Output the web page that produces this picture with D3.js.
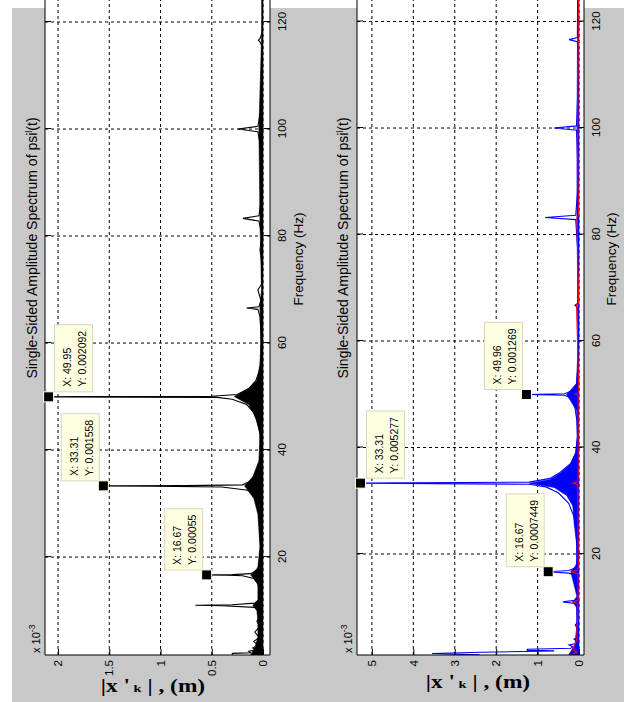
<!DOCTYPE html>
<html>
<head>
<meta charset="utf-8">
<script src="https://cdn.jsdelivr.net/npm/d3@7"></script>
<style>
  html, body { margin: 0; padding: 0; background: #ffffff; }
  svg { display: block; }
  .tick text { font-family: 'Liberation Sans', Arial, sans-serif; font-size: 11.5px; fill: #000; }
  .tick line { stroke: #000; }
  .lbl { font-family: 'Liberation Sans', Arial, sans-serif; fill: #000; }
  .tip text { font-family: 'Liberation Sans', Arial, sans-serif; font-size: 10.5px; fill: #000; }
</style>
</head>
<body>
<div id="chart"></div>
<script>
/* ---- data (amplitudes in units of 1e-3 m, as the axes show) ---- */
const freqTicks = [20, 40, 60, 80, 100, 120];
const ampTicksL = [0, 0.5, 1, 1.5, 2];
const ampTicksR = [0, 1, 2, 3, 4, 5];

// left panel, black spectrum [Hz, x1e-3 m]
const specL = [
  [1.7, 0.30], [2.0, 0.30], [2.1, 0.12], [2.4, 0.14], [2.7, 0.06], [3.0, 0.10], [3.5, 0.05],
  [4.2, 0.09], [5.0, 0.04], [6.0, 0.08], [7.0, 0.03], [8.0, 0.06], [9.0, 0.03], [10.0, 0.05],
  [10.6, 0.08], [10.9, 0.40], [11.0, 0.66], [11.1, 0.30], [11.4, 0.08], [12.0, 0.04], [13.0, 0.03],
  [14.0, 0.04], [15.0, 0.05], [16.0, 0.09], [16.5, 0.20], [16.62, 0.35], [16.67, 0.55], [16.72, 0.30],
  [16.9, 0.12], [17.5, 0.06], [18.5, 0.04], [20.0, 0.03], [22.0, 0.025], [25.0, 0.03], [28.0, 0.04],
  [30.0, 0.06], [31.5, 0.09], [32.5, 0.15], [33.1, 0.40], [33.25, 1.10], [33.31, 1.558], [33.36, 0.75],
  [33.5, 0.20], [34.2, 0.12], [35.5, 0.06], [37.0, 0.03], [40.0, 0.02], [43.0, 0.03], [45.0, 0.05],
  [47.0, 0.09], [48.5, 0.16], [49.5, 0.30], [49.85, 0.45], [49.9, 1.27], [49.95, 2.092], [50.0, 1.80],
  [50.05, 0.50], [50.4, 0.25], [51.5, 0.14], [53.0, 0.07], [55.0, 0.03], [58.0, 0.02], [62.0, 0.02],
  [65.0, 0.03], [66.3, 0.05], [66.55, 0.16], [66.8, 0.04], [68.0, 0.02], [69.9, 0.05], [71.0, 0.015],
  [75.0, 0.01], [77.4, 0.03], [80.0, 0.01], [82.8, 0.04], [83.3, 0.195], [83.8, 0.04], [88.0, 0.01],
  [95.0, 0.01], [99.5, 0.05], [100.0, 0.245], [100.5, 0.05], [105.0, 0.01], [115.5, 0.01],
  [116.3, 0.03], [116.6, 0.045], [116.9, 0.03], [118.0, 0.01], [150.0, 0.01]
];
// dense leakage band under the left spectrum
const skirtL = [
  [1.7, 0.12], [3.0, 0.08], [5.0, 0.05], [8.0, 0.05], [10.0, 0.06], [11.0, 0.10], [12.0, 0.05],
  [15.0, 0.05], [16.67, 0.12], [18.0, 0.05], [22.0, 0.03], [28.0, 0.05], [31.0, 0.09], [33.3, 0.18],
  [35.0, 0.10], [38.0, 0.04], [43.0, 0.03], [46.0, 0.07], [48.5, 0.14], [50.0, 0.28], [51.5, 0.14],
  [53.0, 0.06], [56.0, 0.03], [60.0, 0.02], [66.6, 0.03], [70.0, 0.015], [83.3, 0.03], [100.0, 0.04],
  [120.0, 0.01], [150.0, 0.01]
];
const tipsL = [[16.67, 0.00055, "ur"], [33.31, 0.001558, "ur"], [49.95, 0.002092, "lr"]];

// right panel, blue spectrum [Hz, x1e-3 m]
const specBlue = [
  [1.05, 2.40], [1.3, 3.55], [1.55, 2.35], [1.8, 0.60], [1.9, 1.25], [2.1, 1.25], [2.3, 0.20],
  [2.6, 0.15], [2.9, 0.24], [3.2, 0.06], [3.6, 0.05], [4.0, 0.12], [4.3, 0.04], [5.0, 0.03],
  [6.0, 0.05], [6.7, 0.09], [7.2, 0.03], [8.5, 0.04], [10.0, 0.05], [10.7, 0.10], [11.0, 0.39],
  [11.3, 0.10], [12.0, 0.04], [14.0, 0.04], [16.0, 0.10], [16.4, 0.25], [16.67, 0.745], [16.9, 0.25],
  [17.4, 0.08], [19.0, 0.04], [21.0, 0.05], [24.0, 0.07], [27.0, 0.12], [29.5, 0.25], [31.5, 0.50],
  [32.6, 0.80], [33.1, 1.20], [33.31, 5.277], [33.5, 1.20], [34.2, 0.70], [35.2, 0.48], [37.0, 0.20],
  [39.0, 0.08], [42.0, 0.04], [45.0, 0.05], [47.5, 0.10], [49.3, 0.20], [49.8, 0.35], [49.96, 1.269],
  [50.1, 0.35], [50.7, 0.15], [52.0, 0.06], [55.0, 0.03], [60.0, 0.02], [66.3, 0.03], [66.7, 0.10],
  [67.1, 0.03], [75.0, 0.015], [82.8, 0.08], [83.2, 0.82], [83.6, 0.08], [90.0, 0.015], [99.6, 0.06],
  [100.0, 0.60], [100.4, 0.06], [106.6, 0.03], [110.0, 0.01], [116.2, 0.04], [116.6, 0.24],
  [117.0, 0.04], [150.0, 0.01]
];
const skirtBlue = [
  [1.05, 0.25], [3.0, 0.10], [6.0, 0.06], [10.0, 0.06], [11.0, 0.15], [12.0, 0.05], [16.67, 0.20],
  [18.0, 0.06], [22.0, 0.06], [26.0, 0.12], [29.0, 0.15], [31.0, 0.30], [32.5, 0.60], [33.3, 1.20],
  [34.0, 0.70], [35.2, 0.45], [37.0, 0.20], [39.0, 0.08], [42.0, 0.04], [47.0, 0.06], [49.96, 0.30],
  [52.0, 0.06], [60.0, 0.02], [83.3, 0.05], [100.0, 0.05], [150.0, 0.01]
];
// right panel, red spectrum
const specRed = [
  [1.05, 0.20], [1.5, 0.05], [2.0, 0.15], [3.0, 0.10], [4.0, 0.05], [6.0, 0.05], [8.0, 0.03],
  [10.7, 0.03], [11.0, 0.15], [11.3, 0.03], [12.0, 0.02], [16.3, 0.03], [16.67, 0.18], [17.0, 0.03],
  [18.0, 0.02], [33.0, 0.03], [33.3, 0.15], [33.6, 0.03], [35.0, 0.02], [49.7, 0.02], [50.0, 0.10],
  [50.3, 0.02], [52.0, 0.01], [66.7, 0.06], [67.0, 0.01], [83.3, 0.05], [83.6, 0.01], [91.5, 0.03],
  [100.0, 0.03], [116.6, 0.02], [150.0, 0.0]
];
const tipsR = [[16.67, 0.0007449, "ur"], [33.31, 0.005277, "lr"], [49.96, 0.001269, "ur"]];

/* ---- figure ---- */
const W = 624, H = 702;
const svg = d3.select("#chart").append("svg")
  .attr("width", W).attr("height", H);

svg.append("rect")
  .attr("x", 12).attr("y", 8).attr("width", W - 12).attr("height", H - 8)
  .attr("fill", "#c8c8c8");

// each MATLAB axes is drawn normally, then the whole thing is turned 90deg ccw
const panels = [
  {
    id: "L", fDom: [1.7, 150], u: [47, 840.5], aDom: [-0.068, 2.127], v: [270, 45],
    ampTicks: ampTicksL,
    skirts: [{ data: skirtL, color: "#000" }],
    series: [{ data: specL, color: "#000" }],
    tips: tipsL, titleU: 454, titleV: 37, xlabU: 443, xlabV: 303, ylab: [153, 692]
  },
  {
    id: "R", fDom: [1.03, 150], u: [47, 840.2], aDom: [-0.12, 5.36], v: [584, 357],
    ampTicks: ampTicksR,
    skirts: [{ data: skirtBlue, color: "#0000ff" }],
    series: [{ data: specBlue, color: "#0000ff" }, { data: specRed, color: "#ff0000" }],
    tips: tipsR, titleU: 454, titleV: 348, xlabU: 443, xlabV: 616, ylab: [478, 688]
  }
];

const rot = svg.append("g").attr("transform", `translate(0,${H}) rotate(-90)`);

panels.forEach(function (p) {
  const x = d3.scaleLinear().domain(p.fDom).range(p.u);
  const y = d3.scaleLinear().domain(p.aDom).range(p.v);
  const u0 = p.u[0], u1 = p.u[1], vTop = p.v[1], vBot = p.v[0];

  const g = rot.append("g");

  g.append("clipPath").attr("id", "clip" + p.id)
    .append("rect").attr("x", u0).attr("y", vTop).attr("width", u1 - u0).attr("height", vBot - vTop);

  g.append("rect")
    .attr("x", u0).attr("y", vTop).attr("width", u1 - u0).attr("height", vBot - vTop)
    .attr("fill", "#fff");

  // grid
  const grid = g.append("g").attr("stroke", "#000").attr("stroke-width", 1)
    .attr("stroke-dasharray", "3,3").attr("fill", "none");
  freqTicks.forEach(f => grid.append("line")
    .attr("x1", x(f)).attr("x2", x(f)).attr("y1", vTop).attr("y2", vBot));
  p.ampTicks.forEach(a => grid.append("line")
    .attr("x1", u0).attr("x2", u1).attr("y1", y(a)).attr("y2", y(a)));

  const data = g.append("g").attr("clip-path", `url(#clip${p.id})`);

  const area = d3.area().x(d => x(d[0])).y0(y(0)).y1(d => y(d[1]));
  p.skirts.forEach(s => data.append("path").datum(s.data)
    .attr("d", area).attr("fill", s.color).attr("stroke", s.color).attr("stroke-width", 0.6));

  const line = d3.line().x(d => x(d[0])).y(d => y(d[1]));
  p.series.forEach(s => data.append("path").datum(s.data)
    .attr("d", line).attr("fill", "none").attr("stroke", s.color).attr("stroke-width", 1.1));

  // axes, ticks inside as in MATLAB
  const xb = g.append("g").attr("transform", `translate(0,${vBot})`)
    .call(d3.axisBottom(x).tickValues(freqTicks).tickSize(-6).tickSizeOuter(0).tickPadding(8));
  const xt = g.append("g").attr("transform", `translate(0,${vTop})`)
    .call(d3.axisTop(x).tickValues(freqTicks).tickSize(-6).tickSizeOuter(0).tickFormat(""));
  const yl = g.append("g").attr("transform", `translate(${u0},0)`)
    .call(d3.axisLeft(y).tickValues(p.ampTicks).tickSize(-6).tickSizeOuter(0).tickPadding(5)
      .tickFormat(d => String(d)));
  [xb, xt, yl].forEach(a => a.select(".domain").remove());

  // axes box
  const box = g.append("g").attr("stroke", "#000").attr("stroke-width", 1).attr("fill", "none");
  box.append("line").attr("x1", u0).attr("x2", u1).attr("y1", vBot).attr("y2", vBot);
  box.append("line").attr("x1", u0).attr("x2", u1).attr("y1", vTop).attr("y2", vTop);
  box.append("line").attr("x1", u0).attr("x2", u0).attr("y1", vTop).attr("y2", vBot);

  // exponent label
  const sci = g.append("text").attr("class", "lbl").attr("x", u0 + 2).attr("y", vTop - 5)
    .style("font-size", "11px");
  sci.append("tspan").text("x 10");
  sci.append("tspan").attr("dy", -5).style("font-size", "8.5px").text("-3");

  // title and frequency label
  const title = g.append("text").attr("class", "lbl")
    .attr("x", p.titleU).attr("y", p.titleV).attr("text-anchor", "middle")
    .style("font-size", "14px");
  title.append("tspan").text("Single-Sided Amplitude Spectrum of psi");
  title.append("tspan").attr("dy", -5).style("font-size", "9px").text("l");
  title.append("tspan").attr("dy", 5).text("(t)");

  g.append("text").attr("class", "lbl")
    .attr("x", p.xlabU).attr("y", p.xlabV).attr("text-anchor", "middle")
    .style("font-size", "13.5px").text("Frequency (Hz)");

  // data tips
  p.tips.forEach(function (t) {
    const px = x(t[0]), py = y(t[1] * 1000);
    const tg = g.append("g").attr("class", "tip");
    const rect = tg.append("rect");
    const bh = 38;
    const bu = px + 5;
    const bv = t[2] === "ur" ? py - 4 - bh : py + 6;
    const l1 = tg.append("text").attr("x", bu + 5).attr("y", bv + 16.5).text("X: " + t[0]);
    const l2 = tg.append("text").attr("x", bu + 5).attr("y", bv + 31.5).text("Y: " + t[1]);
    const bw = Math.max(l1.node().getComputedTextLength(), l2.node().getComputedTextLength()) + 11;
    rect.attr("x", bu).attr("y", bv).attr("width", bw).attr("height", bh)
      .attr("fill", "#ffffe1").attr("stroke", "#d9d6bf").attr("stroke-width", 1);
    tg.append("rect").attr("x", px - 5).attr("y", py - 5).attr("width", 10).attr("height", 10)
      .attr("fill", "#000").attr("stroke", "#ffffe1").attr("stroke-width", 1);
  });

  // amplitude label, upright in the figure
  const yt = svg.append("text")
    .attr("transform", `translate(${p.ylab[0]},${p.ylab[1]}) scale(1.3,1)`)
    .attr("text-anchor", "middle")
    .style("font-family", "'Liberation Serif', 'Times New Roman', serif")
    .style("font-weight", "bold").style("font-size", "18px");
  yt.append("tspan").text("|x '");
  yt.append("tspan").style("font-size", "11px").text(" k");
  yt.append("tspan").text(" | , (m)");
});
</script>
</body>
</html>
